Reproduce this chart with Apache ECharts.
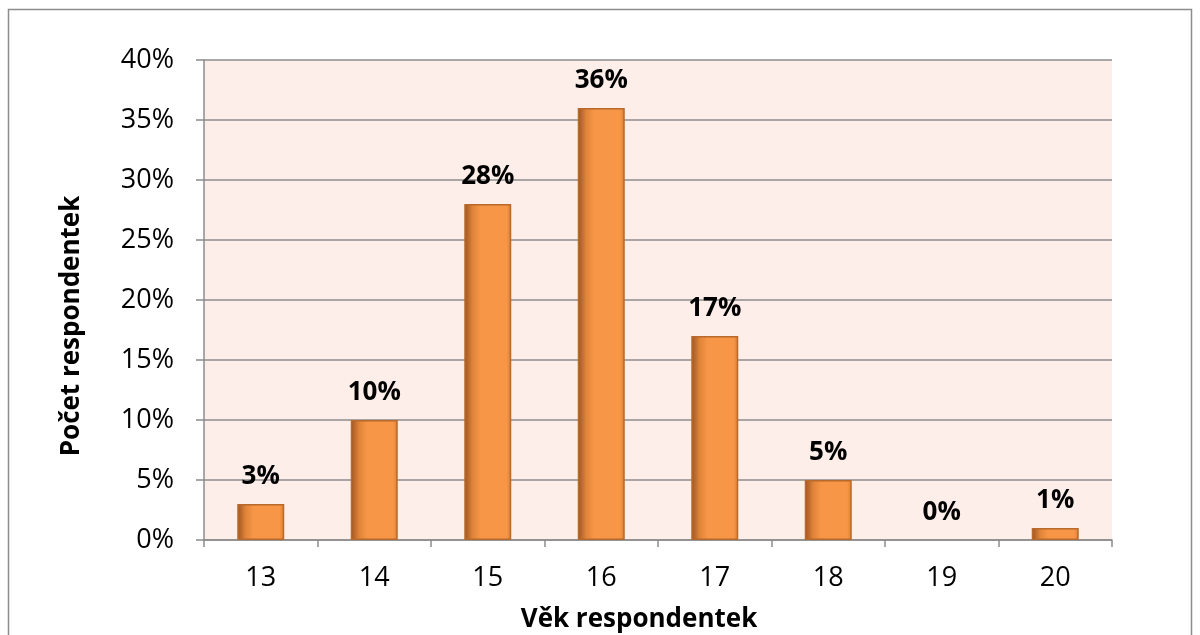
<!DOCTYPE html>
<html>
<head>
<meta charset="utf-8">
<script src="https://cdn.jsdelivr.net/npm/echarts@6/dist/echarts.min.js"></script>
<style>
  html, body { margin: 0; padding: 0; background: #ffffff; }
  #chart { width: 1200px; height: 635px; }
</style>
</head>
<body>
<div id="chart"></div>
<script>
// Age of respondents and their share
const ages = ['13', '14', '15', '16', '17', '18', '19', '20'];
const shares = [3, 10, 28, 36, 17, 5, 0, 1];
const yTicks = [0, 5, 10, 15, 20, 25, 30, 35, 40];

const font = '"Open Sans", "Liberation Sans", sans-serif';
const chart = echarts.init(document.getElementById('chart'), null, { renderer: 'canvas' });

// orange bar with a shaded left edge
const barFill = new echarts.graphic.LinearGradient(0, 0, 1, 0, [
  { offset: 0, color: '#9c5420' },
  { offset: 0.18, color: '#e0843a' },
  { offset: 0.35, color: '#f79646' },
  { offset: 0.9, color: '#f79646' },
  { offset: 1, color: '#d97f37' }
]);

// zero-height bars get no outline
const barData = shares.map(v => ({
  value: v,
  itemStyle: v === 0 ? { borderWidth: 0 } : undefined
}));

chart.setOption({
  animation: false,
  graphic: [{
    type: 'rect',
    shape: { x: 8.5, y: 9.5, width: 1183, height: 700 },
    style: { fill: null, stroke: '#8c8c8c', lineWidth: 1.5 },
    z: 100
  }],
  grid: {
    left: 204, right: 88, top: 60, bottom: 95,
    outerBoundsMode: 'none', containLabel: false,
    show: true, backgroundColor: '#fdeee9', borderWidth: 0
  },
  xAxis: {
    type: 'category',
    data: ages,
    name: 'Věk respondentek',
    nameLocation: 'middle',
    nameGap: 67,
    nameTextStyle: { fontFamily: font, fontSize: 26, fontWeight: 'bold', color: '#000', padding: [0, 38, 0, 0] },
    axisLine: { lineStyle: { color: '#8c8c8c', width: 1.5 } },
    axisTick: { show: true, alignWithLabel: false, length: 7, lineStyle: { color: '#8c8c8c', width: 1.5 } },
    axisLabel: { fontFamily: font, fontSize: 27, color: '#000', margin: 25 }
  },
  yAxis: {
    type: 'value',
    min: yTicks[0],
    max: yTicks[yTicks.length - 1],
    interval: 5,
    name: 'Počet respondentek',
    nameLocation: 'middle',
    nameGap: 119,
    nameTextStyle: { fontFamily: font, fontSize: 26, fontWeight: 'bold', color: '#000', padding: [0, 52, 0, 0] },
    axisLine: { show: true, lineStyle: { color: '#8c8c8c', width: 1.5 } },
    axisTick: { show: true, length: 8, lineStyle: { color: '#8c8c8c', width: 1.5 } },
    splitLine: { lineStyle: { color: '#8c8c8c', width: 1.5 } },
    axisLabel: { fontFamily: font, fontSize: 27, color: '#000', margin: 30, formatter: v => v + '%' }
  },
  series: [{
    type: 'bar',
    data: barData,
    barWidth: 47,
    itemStyle: { color: barFill, borderColor: '#b8692c', borderWidth: 1.5 },
    label: {
      show: true,
      position: 'top',
      distance: 14,
      fontFamily: font,
      fontSize: 26,
      fontWeight: 'bold',
      color: '#000',
      formatter: p => p.value + '%'
    }
  }]
});
</script>
</body>
</html>
